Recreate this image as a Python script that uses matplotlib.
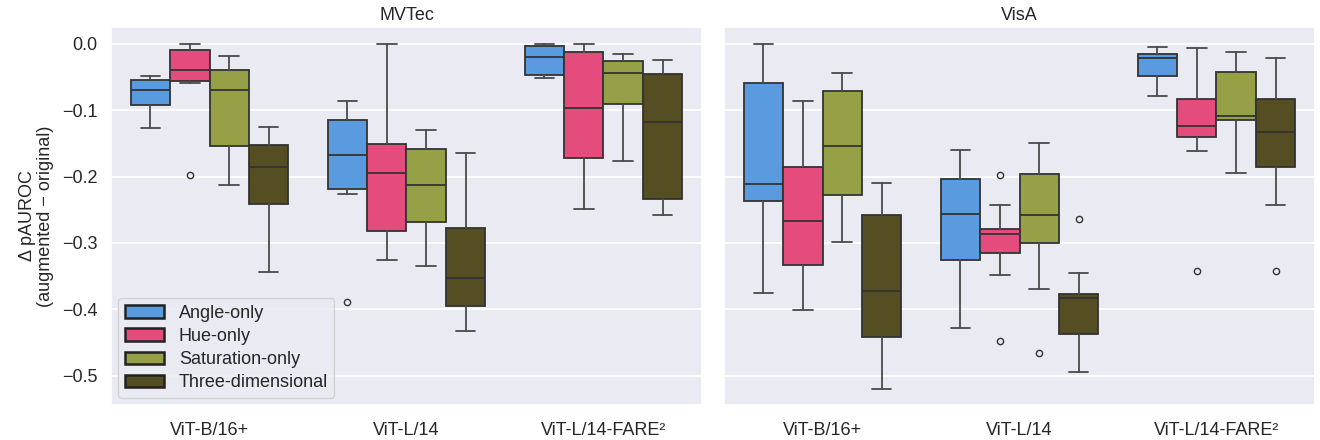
import matplotlib
matplotlib.use('Agg')
import matplotlib.pyplot as plt
import seaborn as sns
from matplotlib.patches import Patch

# categories
models = ['ViT-B/16+', 'ViT-L/14', 'ViT-L/14-FARE²']
variants = ['Angle-only', 'Hue-only', 'Saturation-only', 'Three-dimensional']
datasets = ['MVTec', 'VisA']
colors = ['#5a9be0', '#e54c7e', '#96a047', '#544e22']

# box statistics, rows = variants, columns = models
mvtec_whislo = [[-0.1267, -0.2257, -0.0513],
                [-0.0588, -0.3258, -0.2484],
                [-0.2122, -0.3348, -0.1765],
                [-0.3444, -0.4334, -0.2574]]
mvtec_q1 = [[-0.0925, -0.2192, -0.0473],
            [-0.0553, -0.2820, -0.1714],
            [-0.1538, -0.2685, -0.0910],
            [-0.2408, -0.3952, -0.2338]]
mvtec_med = [[-0.0699, -0.1679, -0.0201],
             [-0.0397, -0.1946, -0.0970],
             [-0.0699, -0.2127, -0.0442],
             [-0.1855, -0.3534, -0.1181]]
mvtec_q3 = [[-0.0548, -0.1146, -0.0025],
            [-0.0090, -0.1503, -0.0121],
            [-0.0397, -0.1584, -0.0256],
            [-0.1518, -0.2770, -0.0447]]
mvtec_whishi = [[-0.0478, -0.0855, 0.0],
                [0.0, 0.0, 0.0],
                [-0.0176, -0.1297, -0.0146],
                [-0.1247, -0.1639, -0.0236]]
mvtec_fliers = [[[], [-0.3886], []],
                [[-0.198], [], []],
                [[], [], []],
                [[], [], []]]

visa_whislo = [[-0.3761, -0.4289, -0.0779],
               [-0.4012, -0.3480, -0.1614],
               [-0.2981, -0.3695, -0.1941],
               [-0.5209, -0.4952, -0.2433]]
visa_q1 = [[-0.2373, -0.3263, -0.0478],
           [-0.3333, -0.3157, -0.1403],
           [-0.2283, -0.3006, -0.1141],
           [-0.4424, -0.4369, -0.1850]]
visa_med = [[-0.2107, -0.2569, -0.0216],
            [-0.2670, -0.2861, -0.1242],
            [-0.1538, -0.2584, -0.1081],
            [-0.3731, -0.3836, -0.1327]]
visa_q3 = [[-0.0593, -0.2031, -0.0156],
           [-0.1860, -0.2785, -0.0834],
           [-0.0714, -0.1956, -0.0422],
           [-0.2584, -0.3766, -0.0834]]
visa_whishi = [[0.0, -0.1599, -0.0040],
               [-0.0860, -0.2423, -0.0065],
               [-0.0443, -0.1488, -0.0121],
               [-0.2091, -0.3454, -0.0211]]
visa_fliers = [[[], [], []],
               [[], [-0.1976, -0.4475], [-0.3419]],
               [[], [-0.4661], []],
               [[], [-0.2640], [-0.3419]]]

stats_all = {
    'MVTec': (mvtec_whislo, mvtec_q1, mvtec_med, mvtec_q3, mvtec_whishi, mvtec_fliers),
    'VisA': (visa_whislo, visa_q1, visa_med, visa_q3, visa_whishi, visa_fliers),
}

sns.set_theme(style='darkgrid')
plt.rcParams['font.family'] = ['Liberation Sans', 'DejaVu Sans']
fs = 13

fig = plt.figure(figsize=(13.2, 4.4), dpi=100)
ax1 = fig.add_axes([0.0841, 0.0795, 0.4477, 0.8591])
ax2 = fig.add_axes([0.5485, 0.0795, 0.4477, 0.8591], sharey=ax1)

edge = '#333333'
wcol = '#4a4a4a'
box_w = 0.2

for ax, name in zip([ax1, ax2], datasets):
    wl, q1, md, q3, wh, fl = stats_all[name]
    for i in range(len(variants)):
        bstats = []
        pos = []
        for j in range(len(models)):
            bstats.append({'whislo': wl[i][j], 'q1': q1[i][j], 'med': md[i][j],
                           'q3': q3[i][j], 'whishi': wh[i][j], 'fliers': fl[i][j]})
            pos.append(j - 0.3 + i * box_w)
        ax.bxp(bstats, positions=pos, widths=box_w, patch_artist=True,
               showfliers=True, manage_ticks=False,
               boxprops=dict(facecolor=colors[i], edgecolor=edge, linewidth=1.3),
               medianprops=dict(color=edge, linewidth=1.3),
               whiskerprops=dict(color=wcol, linewidth=1.3),
               capprops=dict(color=wcol, linewidth=1.3),
               flierprops=dict(marker='o', markersize=4.5, markerfacecolor='none',
                               markeredgecolor=edge, markeredgewidth=1.0))
    ax.set_xlim(-0.5, 2.5)
    ax.set_xticks(range(len(models)))
    ax.set_xticklabels(models, fontsize=fs)
    ax.grid(axis='x', visible=False)
    ax.grid(axis='y', color='white', linewidth=1.3)
    ax.set_title(name, fontsize=fs, pad=5)
    ax.tick_params(axis='x', pad=6)

ax1.set_ylim(-0.5445, 0.0256)
ax1.set_yticks([0.0, -0.1, -0.2, -0.3, -0.4, -0.5])
ax1.set_yticklabels(['0.0', '−0.1', '−0.2', '−0.3', '−0.4', '−0.5'], fontsize=fs)
ax1.set_ylabel('Δ pAUROC\n(augmented − original)', fontsize=fs, linespacing=1.05,
               labelpad=6)
ax2.tick_params(axis='y', labelleft=False)

handles = [Patch(facecolor=c, edgecolor='#222222', linewidth=1.8, label=v)
           for c, v in zip(colors, variants)]
ax1.legend(handles=handles, loc='lower left', fontsize=fs, frameon=True,
           borderaxespad=0.4, handlelength=2.2, handletextpad=0.8,
           labelspacing=0.35, borderpad=0.35)

plt.savefig('out.png', dpi=100)
